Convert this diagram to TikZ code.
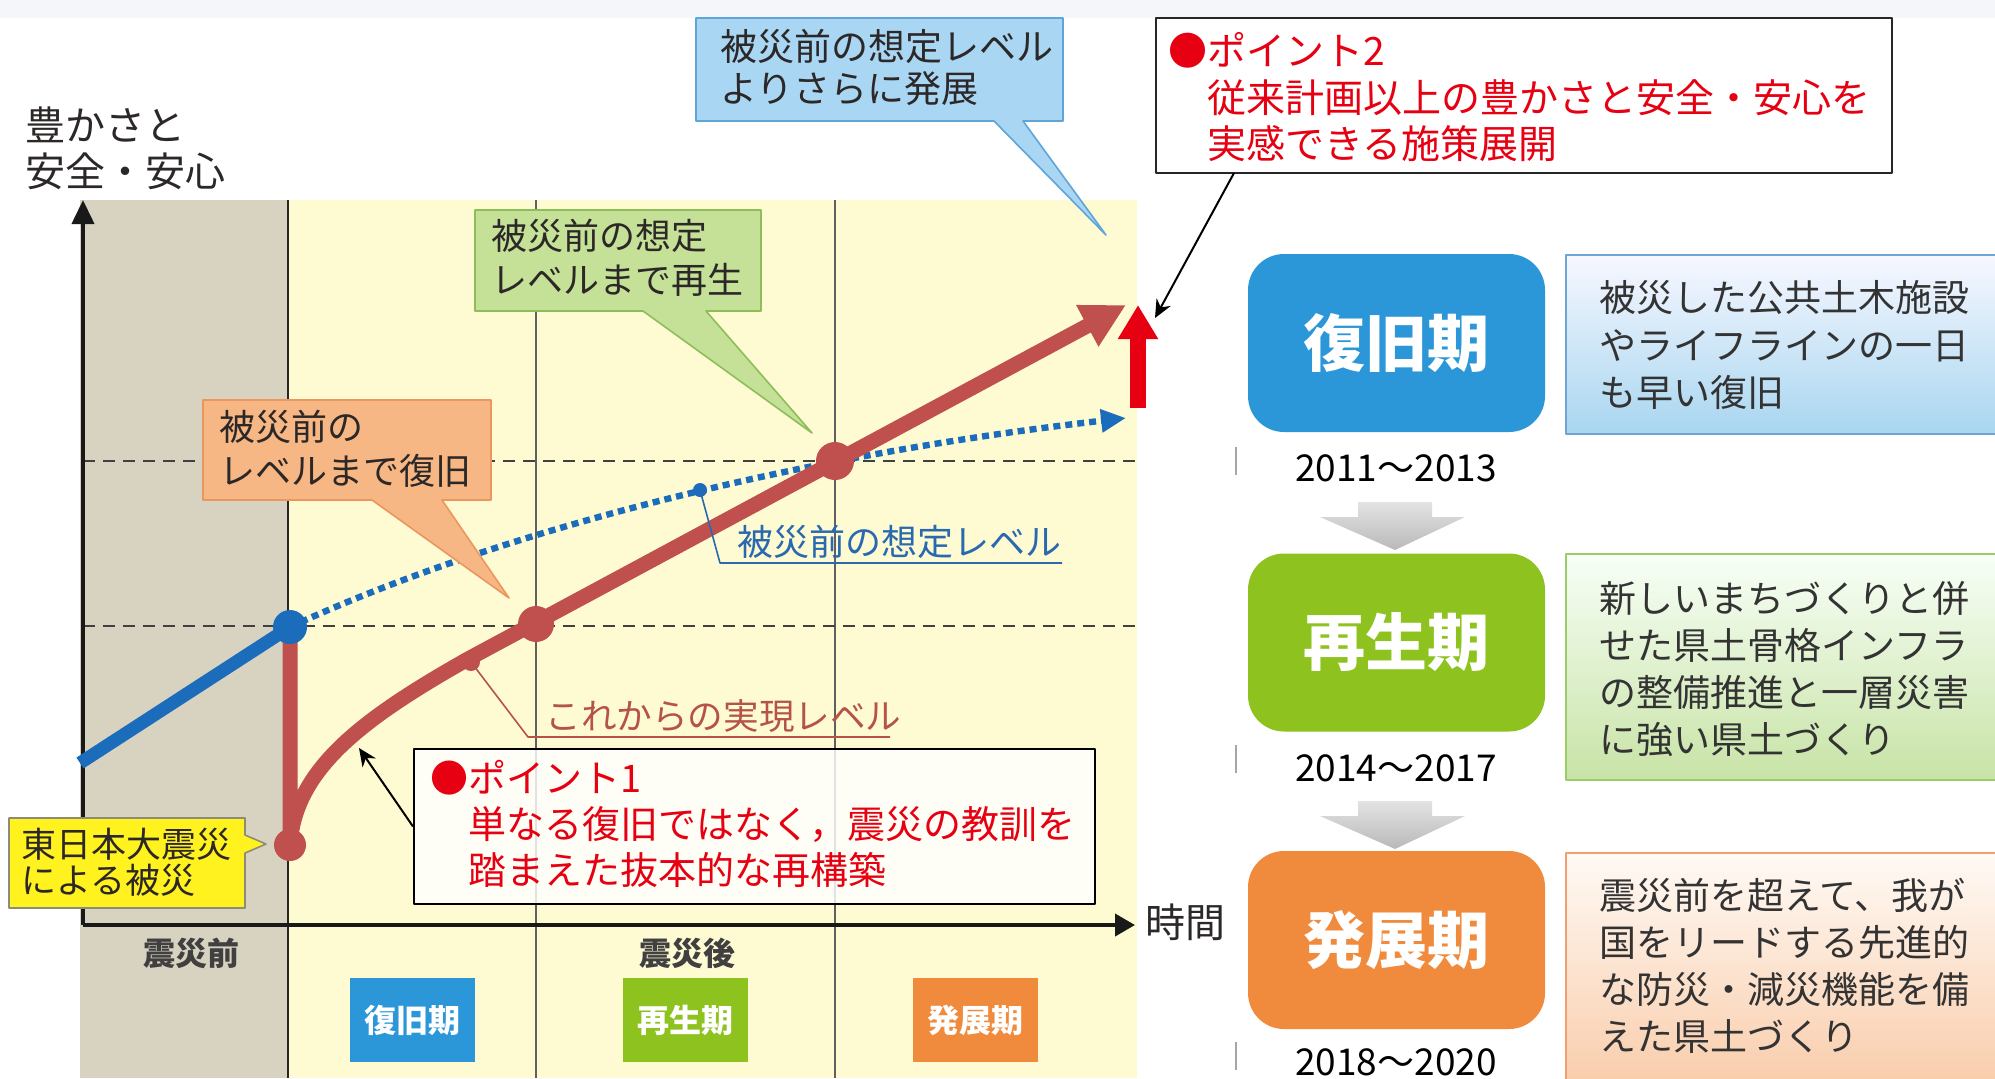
\documentclass[tikz,border=0pt]{standalone}
\usepackage{fontspec}
\setmainfont{Noto Sans CJK JP}
\usetikzlibrary{arrows.meta}
\newcommand\setfs[2]{\fontsize{#1}{#2}\selectfont}
\definecolor{cBlueLine}{RGB}{28,108,188}
\definecolor{cRedLine}{RGB}{192,80,77}
\definecolor{cRed}{RGB}{230,0,18}
\definecolor{cGrayBg}{RGB}{216,211,193}
\definecolor{cYellowBg}{RGB}{254,251,210}
\definecolor{cTxt}{RGB}{45,40,40}
\definecolor{cBlueCallF}{RGB}{168,214,243}
\definecolor{cBlueCallD}{RGB}{95,165,215}
\definecolor{cGreenCallF}{RGB}{197,225,152}
\definecolor{cGreenCallD}{RGB}{140,190,90}
\definecolor{cOrCallF}{RGB}{246,183,132}
\definecolor{cOrCallD}{RGB}{236,150,95}
\definecolor{cYelCallF}{RGB}{255,242,30}
\definecolor{cYelCallD}{RGB}{140,140,120}
\definecolor{cPhBlue}{RGB}{43,151,216}
\definecolor{cPhGreen}{RGB}{141,194,31}
\definecolor{cPhOrange}{RGB}{240,138,60}
\definecolor{cLblRed}{RGB}{181,82,74}
\definecolor{cLblBlue}{RGB}{40,105,175}
\definecolor{cTop}{RGB}{244,246,250}
\begin{document}
\begin{tikzpicture}[x=0.5pt,y=-0.5pt,line join=round,
  txt/.style={inner sep=0pt,anchor=north west,align=left,text=cTxt},
  redtxt/.style={inner sep=0pt,anchor=north west,align=left,text=cRed},
  calloutline/.style={line width=0.8pt},
  vline/.style={line width=0.6pt,draw=gray!75!black},
  dashline/.style={line width=0.7pt,draw=black!75,dash pattern=on 6pt off 4pt},
  axisline/.style={line width=2pt,draw=black!90},
  dotnode/.style={circle,inner sep=0pt},
  phbig/.style={rounded corners=18pt,minimum width=148.5pt,minimum height=89pt,inner sep=0pt,text=white,font=\bfseries\setfs{31pt}{31pt}},
  phsmall/.style={minimum width=62.5pt,minimum height=42pt,inner sep=0pt,text=white,font=\bfseries\setfs{16pt}{16pt}},
  descbox/.style={anchor=north west,minimum width=220pt,inner sep=0pt,line width=0.8pt},
  desctxt/.style={inner sep=0pt,anchor=north west,align=left,text=black!80},
  yeartxt/.style={inner sep=0pt,text=black,font=\setfs{18.5pt}{18.5pt}},
  ptr/.style={line width=1pt,draw=black,-{Stealth[length=9pt,width=8pt]}},
  tick/.style={line width=0.6pt,draw=gray!70}
]
\useasboundingbox (0,0) rectangle (1995,1078);
\fill[white] (0,0) rectangle (1995,1078);
\fill[cTop] (0,0) rectangle (1995,18);

% chart background
\fill[cGrayBg] (80,200) rectangle (288,1078);
\fill[cYellowBg] (288,200) rectangle (1137,1078);
\draw[line width=0.8pt,black!85] (288,200) -- (288,1078);
\draw[vline] (536,200) -- (536,1078);
\draw[vline] (835,200) -- (835,1078);
\draw[dashline] (83,461) -- (1137,461);
\draw[dashline] (83,626) -- (1137,626);

% axes
\coordinate (O) at (83,925);
\coordinate (ytip) at (83,200);
\coordinate (xtip) at (1135,925);
\draw[axisline,-{Triangle[length=12pt,width=11pt]}] (O) -- (ytip);
\draw[axisline,-{Triangle[length=10pt,width=11pt]}] (O) -- (xtip);

% axis labels
\node[txt,font=\setfs{20pt}{23pt}] (ylab) at (25,106) {豊かさと\\安全・安心};
\node[txt,font=\setfs{20pt}{20pt}] (xlab) at (1145,903) {時間};
\node[inner sep=0pt,text=black!75,font=\bfseries\setfs{16pt}{16pt}] (before) at (191,953) {震災前};
\node[inner sep=0pt,text=black!75,font=\bfseries\setfs{16pt}{16pt}] (after) at (687,953) {震災後};

% small phase boxes
\node[phsmall,fill=cPhBlue] (sb1) at (412.5,1020) {復旧期};
\node[phsmall,fill=cPhGreen] (sb2) at (685,1020) {再生期};
\node[phsmall,fill=cPhOrange] (sb3) at (975,1020) {発展期};

% blue line (before disaster)
\coordinate (bstart) at (80,763);
\coordinate (bdotc) at (290,627);
\coordinate (bend) at (1126,418);
\draw[cBlueLine,line width=3.2pt,dash pattern=on 3.5pt off 2.5pt,-{Triangle[length=12.5pt,width=11pt]}]
  (bdotc) .. controls (500,530) and (800,455) .. (bend);
\draw[cBlueLine,line width=6.5pt] (bstart) -- (bdotc);

% red line
\coordinate (rlowc) at (290,845);
\coordinate (rk) at (468,659);
\coordinate (rend) at (1126,305);
\draw[cRedLine,line width=7.5pt,-{Triangle[length=22pt,width=22pt]}]
  (bdotc) -- (rlowc) .. controls (295,770) and (360,720) .. (rk) -- (rend);

% dots
\node[dotnode,fill=cBlueLine,minimum size=17pt] (bdot) at (bdotc) {};
\node[dotnode,fill=cRedLine,minimum size=16pt] (rlow) at (rlowc) {};
\node[dotnode,fill=cRedLine,minimum size=18pt] (rmid) at (536,624) {};
\node[dotnode,fill=cRedLine,minimum size=19pt] (rhigh) at (835,461) {};
\node[dotnode,fill=cBlueLine,minimum size=7pt] (bsmall) at (700,490) {};
\node[dotnode,fill=cRedLine,minimum size=9pt] (rsmall) at (471,662) {};

% labels on lines
\coordinate (rl1) at (528,737);
\coordinate (rl2) at (890,737);
\draw[cLblRed,line width=0.8pt] (rsmall.center) -- (rl1) -- (rl2);
\node[inner sep=0pt,anchor=south west,text=cLblRed,font=\setfs{17.8pt}{17.8pt}] (reallbl) at (545,733) {これからの実現レベル};
\coordinate (bl1) at (720,563);
\coordinate (bl2) at (1062,563);
\draw[cLblBlue,line width=0.8pt] (bsmall.center) -- (bl1) -- (bl2);
\node[inner sep=0pt,anchor=south west,text=cLblBlue,font=\setfs{18pt}{18pt}] (planlbl) at (737,559) {被災前の想定レベル};

% red up arrow
\coordinate (upfrom) at (1138,408);
\coordinate (upto) at (1138,305);
\draw[cRed,line width=8pt,-{Triangle[length=17pt,width=19pt]}] (upfrom) -- (upto);

% blue callout
\filldraw[fill=cBlueCallF,draw=cBlueCallD,calloutline]
  (696,18) -- (1063,18) -- (1063,121) -- (1023,121) -- (1106,235) -- (994,121) -- (696,121) -- cycle;
\node[txt,font=\setfs{18.5pt}{21pt}] (bctext) at (720,29) {被災前の想定レベル\\よりさらに発展};

% green callout
\filldraw[fill=cGreenCallF,draw=cGreenCallD,calloutline]
  (475,210) -- (761,210) -- (761,311) -- (706,311) -- (812,433) -- (643,311) -- (475,311) -- cycle;
\node[txt,font=\setfs{18pt}{22pt}] (gctext) at (491,219) {被災前の想定\\レベルまで再生};

% orange callout
\filldraw[fill=cOrCallF,draw=cOrCallD,calloutline]
  (203,400) -- (491,400) -- (491,500) -- (442,500) -- (509,598) -- (372,500) -- (203,500) -- cycle;
\node[txt,font=\setfs{18pt}{22pt}] (octext) at (219,410) {被災前の\\レベルまで復旧};

% yellow callout
\filldraw[fill=cYelCallF,draw=cYelCallD,calloutline]
  (9,818) -- (245,818) -- (245,835) -- (266,844) -- (245,853) -- (245,908) -- (9,908) -- cycle;
\node[txt,font=\setfs{17.5pt}{18pt}] (yctext) at (21,828) {東日本大震災\\による被災};

% point 1
\node[anchor=north west,minimum width=340.5pt,minimum height=77.5pt,inner sep=0pt,fill=white,fill opacity=0.82,draw=black,draw opacity=1,line width=1pt] (p1box) at (413,748) {};
\node[redtxt,font=\setfs{19pt}{23pt}] (p1text) at (430,760) {●ポイント1\\　単なる復旧ではなく，震災の教訓を\\　踏まえた抜本的な再構築};
\coordinate (p1tip) at (359,748);
\draw[ptr] (p1box.west) -- (p1tip);

% point 2
\node[anchor=north west,minimum width=368pt,minimum height=77.5pt,inner sep=0pt,fill=white,draw=black!85,line width=1pt] (p2box) at (1155,17) {};
\node[redtxt,font=\setfs{19.5pt}{23.25pt}] (p2text) at (1168,32) {●ポイント2\\　従来計画以上の豊かさと安全・安心を\\　実感できる施策展開};
\coordinate (p2from) at (1234,173);
\coordinate (p2tip) at (1155,318);
\draw[ptr] (p2from) -- (p2tip);

% right side phases
\node[phbig,fill=cPhBlue] (ph1) at (1396.5,343) {復旧期};
\node[phbig,fill=cPhGreen] (ph2) at (1396.5,642.5) {再生期};
\node[phbig,fill=cPhOrange] (ph3) at (1396.5,940) {発展期};
\node[yeartxt] (yr1) at (1396,468) {2011～2013};
\node[yeartxt] (yr2) at (1396,768) {2014～2017};
\node[yeartxt] (yr3) at (1396,1062) {2018～2020};
\draw[tick] (1236,447) -- (1236,475);
\draw[tick] (1236,745) -- (1236,773);
\draw[tick] (1236,1042) -- (1236,1070);

% gray down arrows
\shade[top color=gray!22,bottom color=gray!55]
  (1358,502) -- (1432,502) -- (1432,517) -- (1465,517) -- (1395,550) -- (1320,517) -- (1358,517) -- cycle;
\shade[top color=gray!22,bottom color=gray!55]
  (1358,801) -- (1432,801) -- (1432,816) -- (1465,816) -- (1395,849) -- (1320,816) -- (1358,816) -- cycle;

% description boxes
\node[descbox,minimum height=89.5pt,top color=blue!3!white,bottom color={rgb,255:red,168;green,214;blue,240},draw={rgb,255:red,110;green,165;blue,210}] (d1) at (1565,254) {};
\node[desctxt,font=\setfs{18.5pt}{23.75pt}] (d1t) at (1599,280) {被災した公共土木施設\\やライフラインの一日\\も早い復旧};
\node[descbox,minimum height=113pt,top color=green!3!white,bottom color={rgb,255:red,200;green,227;blue,166},draw={rgb,255:red,156;green,203;blue,106}] (d2) at (1565,553) {};
\node[desctxt,font=\setfs{18.5pt}{23.5pt}] (d2t) at (1599,581) {新しいまちづくりと併\\せた県土骨格インフラ\\の整備推進と一層災害\\に強い県土づくり};
\node[descbox,minimum height=118pt,top color=orange!4!white,bottom color={rgb,255:red,249;green,204;blue,170},draw={rgb,255:red,240;green,160;blue,112}] (d3) at (1565,852) {};
\node[desctxt,font=\setfs{18.5pt}{23.5pt}] (d3t) at (1599,878) {震災前を超えて、我が\\国をリードする先進的\\な防災・減災機能を備\\えた県土づくり};
\end{tikzpicture}
\end{document}
